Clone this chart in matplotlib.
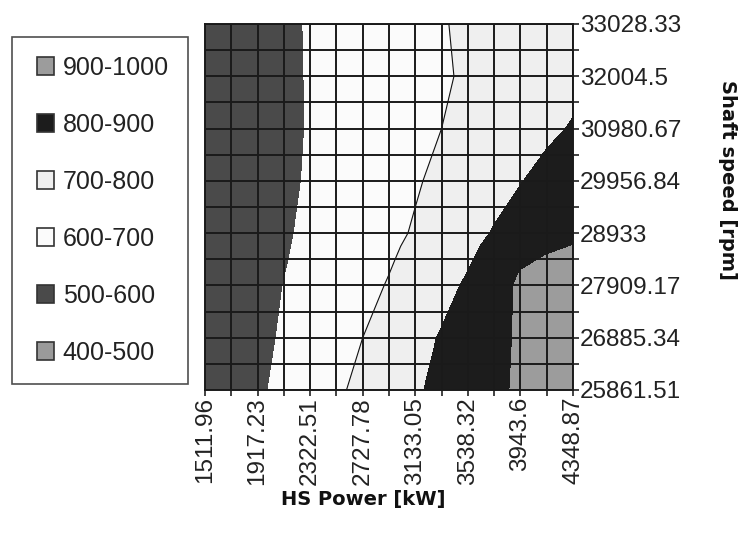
import numpy as np
import matplotlib
matplotlib.use("Agg")
import matplotlib.pyplot as plt
from matplotlib.patches import Patch
from matplotlib.legend_handler import HandlerPatch
from matplotlib.ticker import FixedLocator

plt.rcParams['font.family'] = ['Liberation Sans', 'DejaVu Sans']

# HS Power [kW] grid nodes (every second one is a labelled tick)
hs_power = [1511.96, 1714.60, 1917.23, 2119.87, 2322.51, 2525.14, 2727.78,
            2930.41, 3133.05, 3335.69, 3538.32, 3740.96, 3943.60, 4146.23, 4348.87]
# Shaft speed [rpm] nodes
shaft_speed = [25861.51, 26885.34, 27909.17, 28165.13, 28421.09, 28677.04, 28933.0,
               29956.84, 30980.67, 32004.5, 33028.33]

x_ticks = [1511.96, 1917.23, 2322.51, 2727.78, 3133.05, 3538.32, 3943.6, 4348.87]
x_tick_labels = ["1511.96", "1917.23", "2322.51", "2727.78", "3133.05", "3538.32", "3943.6", "4348.87"]
y_ticks = [25861.51, 26885.34, 27909.17, 28933.0, 29956.84, 30980.67, 32004.5, 33028.33]
y_tick_labels = ["25861.51", "26885.34", "27909.17", "28933", "29956.84", "30980.67", "32004.5", "33028.33"]

# Surface values (rows = shaft speed, columns = HS power)
z_row_25861 = [519, 553, 587, 620, 654, 687, 721, 755, 790, 821, 852, 882, 912, 942, 972]
z_row_26885 = [517, 548, 578, 609, 639, 670, 700, 736, 771, 807, 842, 877, 910, 940, 970]
z_row_27909 = [523, 549, 575, 601, 627, 652, 678, 705, 739, 773, 812, 871, 910, 918, 925]
z_row_28165 = [522, 547, 573, 598, 623, 648, 673, 699, 731, 765, 801, 856, 902, 914, 920]
z_row_28421 = [522, 546, 571, 595, 620, 644, 668, 693, 723, 757, 790, 838, 885, 906, 912]
z_row_28677 = [522, 546, 570, 593, 617, 640, 664, 688, 715, 748, 781, 822, 860, 888, 901]
z_row_28933 = [523, 546, 568, 591, 614, 636, 659, 682, 707, 740, 773, 806, 834, 862, 890]
z_row_29957 = [521, 543, 564, 586, 607, 628, 650, 671, 693, 717, 744, 771, 797, 824, 851]
z_row_30981 = [527, 546, 565, 585, 604, 623, 642, 662, 681, 700, 721, 743, 764, 785, 806]
z_row_32005 = [534, 552, 569, 587, 604, 622, 639, 657, 674, 692, 709, 727, 744, 762, 779]
z_row_33028 = [533, 551, 569, 587, 605, 623, 641, 659, 677, 695, 713, 731, 749, 767, 785]

levels = [400, 500, 600, 700, 800, 900, 1000]
band_labels = ["400-500", "500-600", "600-700", "700-800", "800-900", "900-1000"]
band_colors = ["#9a9a9a", "#4a4a4a", "#fbfbfb", "#efefef", "#1c1c1c", "#9c9c9c"]

Z = np.array([z_row_25861, z_row_26885, z_row_27909, z_row_28165, z_row_28421,
              z_row_28677, z_row_28933, z_row_29957, z_row_30981, z_row_32005,
              z_row_33028], dtype=float)

fig = plt.figure(figsize=(7.47, 5.45), dpi=100)
ax = fig.add_axes([205 / 747, 1 - 390 / 545, 368 / 747, 366 / 545])

ax.contourf(hs_power, shaft_speed, Z, levels=levels, colors=band_colors)
ax.contour(hs_power, shaft_speed, Z, levels=[700], colors="#111111", linewidths=0.8)

ax.set_xlim(hs_power[0], hs_power[-1])
ax.set_ylim(shaft_speed[0], shaft_speed[-1])

y_minor = [y_ticks[0] + i * (y_ticks[-1] - y_ticks[0]) / 14 for i in range(15)]
ax.xaxis.set_major_locator(FixedLocator(x_ticks))
ax.xaxis.set_minor_locator(FixedLocator(hs_power))
ax.set_xticklabels(x_tick_labels, rotation=90, fontsize=17.5)
ax.yaxis.set_major_locator(FixedLocator(y_ticks))
ax.yaxis.set_minor_locator(FixedLocator(y_minor))
ax.set_yticklabels(y_tick_labels, fontsize=17.5)
ax.yaxis.tick_right()
ax.tick_params(axis='both', which='both', direction='out', length=4, width=1.2,
               color="#222222", pad=1, labelcolor="#222222")
ax.tick_params(axis='y', which='both', left=False, right=True)
for xv in hs_power:
    ax.axvline(xv, color="#1a1a1a", linewidth=1.4, zorder=3)
for yv in y_minor:
    ax.axhline(yv, color="#1a1a1a", linewidth=1.4, zorder=3)
for s in ax.spines.values():
    s.set_color("#1a1a1a")
    s.set_linewidth(1.4)
    s.set_zorder(4)

fig.text(363 / 747, 1 - 500 / 545, "HS Power [kW]", ha="center", va="center",
         fontsize=14, fontweight="bold", family="DejaVu Sans", color="#111111")
fig.text(727 / 747, 1 - 180 / 545, "Shaft speed [rpm]", ha="center", va="center",
         fontsize=14, fontweight="bold", rotation=270, family="DejaVu Sans",
         color="#111111")

handles = [Patch(facecolor=c, edgecolor="#333333", linewidth=1.2) for c in band_colors]
order = list(range(len(band_labels)))[::-1]
leg = fig.legend([handles[i] for i in order], [band_labels[i] for i in order],
                 loc="upper left", bbox_to_anchor=(12 / 747, 1 - 37 / 545),
                 fontsize=18, frameon=True, fancybox=False, edgecolor="#222222",
                 handlelength=0.92, handleheight=0.7, handletextpad=0.36,
                 labelspacing=1.32, borderpad=0.75, borderaxespad=0,
                 handler_map={Patch: HandlerPatch(xpad=0.24)})
leg.get_frame().set_linewidth(1.2)
for t in leg.get_texts():
    t.set_color("#222222")

fig.savefig("out.png", dpi=100)
